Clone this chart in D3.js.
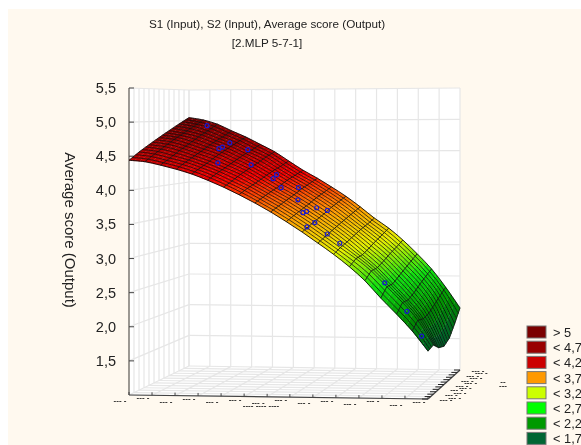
<!DOCTYPE html>
<html>
<head>
<meta charset="utf-8">
<title>S1, S2, Average score</title>
<script src="https://cdnjs.cloudflare.com/ajax/libs/d3/7.8.5/d3.min.js"></script>
<style>
	html, body { margin: 0; padding: 0; background: #fff; overflow: hidden; }
	svg { display: block; filter: blur(0.3px); font-family: "Liberation Sans", Arial, sans-serif; }
</style>
</head>
<body>
<script>
(function() {
	'use strict';

	// DATA //

	var titleLines = [ 'S1 (Input), S2 (Input), Average score (Output)', '[2.MLP 5-7-1]' ],
		zLabel = 'Average score (Output)',
		zTicks = [ 1.5, 2, 2.5, 3, 3.5, 4, 4.5, 5, 5.5 ],
		legendLabels = [ '> 5', '< 4,7', '< 4,2', '< 3,7', '< 3,2', '< 2,7', '< 2,2', '< 1,7' ],
		legendColors = [ '#7b0000', '#990000', '#cc0000', '#ff9900', '#ccff00', '#00ff00', '#009900', '#006633' ],
		surfaceColors = [ '#7b0000', '#a80000', '#f00000', '#ff9900', '#e6f000', '#10e010', '#008c00', '#005a30' ],
		colorStops = [ 5, 4.6, 4.15, 3.6, 3.1, 2.6, 2.1, 1.6 ],
		// The input axis labels are unreadable in the picture, so positions are on a 0-1 range:
		s1Ticks = [ 0, 0.077, 0.154, 0.231, 0.308, 0.385, 0.462, 0.538, 0.615, 0.692, 0.769, 0.846, 0.923, 1 ],
		s2Ticks = [ 0, 0.083, 0.167, 0.25, 0.333, 0.417, 0.5, 0.583, 0.667, 0.75, 0.833, 0.917, 1 ],
		s1Grid = [ 0, 0.053, 0.105, 0.158, 0.21, 0.263, 0.316, 0.368, 0.421, 0.474, 0.526, 0.579, 0.632, 0.684, 0.737, 0.789, 0.842, 0.895, 0.947, 1 ],
		s2Grid = [ 0, 0.167, 0.333, 0.5, 0.667, 0.833, 1 ],
		// One row per S1 grid value, one column per S2 grid value:
		surface = [
			[ 4.44, 4.55, 4.65, 4.75, 4.85, 4.95, 5.05 ],
			[ 4.42, 4.52, 4.62, 4.72, 4.81, 4.91, 5.01 ],
			[ 4.37, 4.46, 4.56, 4.65, 4.75, 4.84, 4.94 ],
			[ 4.31, 4.40, 4.48, 4.57, 4.66, 4.74, 4.83 ],
			[ 4.24, 4.32, 4.40, 4.49, 4.57, 4.65, 4.73 ],
			[ 4.15, 4.23, 4.30, 4.38, 4.46, 4.53, 4.61 ],
			[ 4.05, 4.12, 4.20, 4.27, 4.34, 4.42, 4.49 ],
			[ 3.94, 4.01, 4.07, 4.14, 4.21, 4.27, 4.34 ],
			[ 3.82, 3.88, 3.94, 4.00, 4.07, 4.13, 4.19 ],
			[ 3.69, 3.75, 3.81, 3.87, 3.94, 4.00, 4.06 ],
			[ 3.55, 3.61, 3.67, 3.73, 3.80, 3.86, 3.92 ],
			[ 3.40, 3.46, 3.52, 3.58, 3.65, 3.71, 3.77 ],
			[ 3.24, 3.30, 3.36, 3.42, 3.48, 3.54, 3.60 ],
			[ 3.08, 3.14, 3.19, 3.25, 3.31, 3.36, 3.42 ],
			[ 2.90, 2.98, 3.00, 3.06, 3.13, 3.19, 3.26 ],
			[ 2.70, 2.80, 2.81, 2.87, 2.94, 3.00, 3.07 ],
			[ 2.45, 2.57, 2.57, 2.64, 2.71, 2.78, 2.85 ],
			[ 2.22, 2.34, 2.33, 2.39, 2.47, 2.54, 2.61 ],
			[ 1.98, 2.08, 2.05, 2.08, 2.16, 2.24, 2.32 ],
			[ 1.69, 1.72, 1.62, 1.58, 1.64, 1.80, 1.99 ]
		],
		pointS1 = [ 0.088, 0.191, 0.19, 0.193, 0.256, 0.231, 0.307, 0.39, 0.385, 0.43, 0.463, 0.494, 0.535, 0.54, 0.55, 0.58, 0.576, 0.582, 0.632, 0.672, 0.827, 0.91, 0.97 ],
		pointS2 = [ 0.9, 0.6, 0.67, 0.79, 0.8, 0.37, 0.59, 0.56, 0.66, 0.49, 0.66, 0.46, 0.31, 0.36, 0.52, 0.57, 0.13, 0.27, 0.22, 0.24, 0.23, 0.17, 0.08 ],
		pointZ = [ 4.92, 4.57, 4.59, 4.65, 4.54, 4.37, 4.32, 4.11, 4.16, 3.98, 3.96, 3.80, 3.63, 3.64, 3.67, 3.62, 3.45, 3.49, 3.33, 3.19, 2.61, 2.21, 1.88 ];


	// SETUP //

	var width = 581,
		height = 445,
		fineSteps = 3,
		uSteps = 3,
		uScale = d3.scaleLinear().domain( [ 0, 1 ] ).range( [ 0, 1 ] ),
		vScale = d3.scaleLinear().domain( [ 0, 1 ] ).range( [ 0, 1 ] ),
		zScale = d3.scaleLinear().domain( [ 1, 5.5 ] ).range( [ 0, 1 ] ),
		color = d3.scaleLinear().domain( colorStops ).range( surfaceColors ).clamp( true ),
		// Box corners on screen [ x, bottom y, top y ]:
		c00 = [ 129, 395, 88 ],
		c10 = [ 428, 399, 87 ],
		c11 = [ 460, 370, 88 ],
		c01 = [ 189, 366, 90 ],
		svg,
		line = d3.line();

	/**
	* FUNCTION: project( s1, s2, z )
	*	Maps data values onto the screen through the box corners.
	*/
	function project( s1, s2, z ) {
		var u = uScale( s1 ),
			v = vScale( s2 ),
			h = zScale( z );

		function mix( i ) {
			return (1-u)*(1-v)*c00[ i ] + u*(1-v)*c10[ i ] + u*v*c11[ i ] + (1-u)*v*c01[ i ];
		}
		return [ mix( 0 ), mix( 1 )*(1-h) + mix( 2 )*h ];
	} // end FUNCTION project()

	// Value on the drawn mesh, between the rows of the surface table:
	function meshPoint( i, j ) {
		var k = Math.min( Math.floor( i ), s1Grid.length-2 ),
			l = Math.min( Math.floor( j ), s2Grid.length-2 ),
			a = i - k,
			b = j - l,
			s1 = s1Grid[ k ] + a*( s1Grid[ k+1 ]-s1Grid[ k ] ),
			s2 = s2Grid[ l ] + b*( s2Grid[ l+1 ]-s2Grid[ l ] ),
			z = (1-a)*(1-b)*surface[ k ][ l ] + a*(1-b)*surface[ k+1 ][ l ] + a*b*surface[ k+1 ][ l+1 ] + (1-a)*b*surface[ k ][ l+1 ];
		return { p: project( s1, s2, z ), z: z };
	}

	svg = d3.select( 'body' ).append( 'svg' )
		.attr( 'width', width )
		.attr( 'height', height );

	svg.append( 'rect' )
		.attr( 'x', 8 )
		.attr( 'y', 9 )
		.attr( 'width', width-8 )
		.attr( 'height', height-9 )
		.attr( 'fill', '#fff9ef' );


	// WALLS //

	var walls = svg.append( 'g' );

	[
		[ project( 0, 0, 1 ), project( 0, 1, 1 ), project( 0, 1, 5.5 ), project( 0, 0, 5.5 ) ],
		[ project( 0, 1, 1 ), project( 1, 1, 1 ), project( 1, 1, 5.5 ), project( 0, 1, 5.5 ) ],
		[ project( 0, 0, 1 ), project( 1, 0, 1 ), project( 1, 1, 1 ), project( 0, 1, 1 ) ]
	].forEach( function( pts ) {
		walls.append( 'path' )
			.attr( 'd', line( pts ) + 'Z' )
			.attr( 'fill', '#fff' );
	});

	function gridLine( a, b ) {
		walls.append( 'path' )
			.attr( 'd', line( [ a, b ] ) )
			.attr( 'fill', 'none' )
			.attr( 'stroke', '#e6e6e6' )
			.attr( 'stroke-width', 1.2 );
	}

	s1Ticks.forEach( function( t ) {
		gridLine( project( t, 1, 1 ), project( t, 1, 5.5 ) );
		gridLine( project( t, 0, 1 ), project( t, 1, 1 ) );
	});
	s2Ticks.forEach( function( t ) {
		gridLine( project( 0, t, 1 ), project( 0, t, 5.5 ) );
		gridLine( project( 0, t, 1 ), project( 1, t, 1 ) );
	});
	zTicks.forEach( function( t ) {
		gridLine( project( 0, 0, t ), project( 0, 1, t ) );
		gridLine( project( 0, 1, t ), project( 1, 1, t ) );
	});


	// AXES //

	var axes = svg.append( 'g' );

	function axisLine( a, b, col, w ) {
		axes.append( 'path' )
			.attr( 'd', line( [ a, b ] ) )
			.attr( 'fill', 'none' )
			.attr( 'stroke', col )
			.attr( 'stroke-width', w );
	}

	axisLine( project( 0, 0, 1 ), project( 0, 0, 5.5 ), '#77736b', 1.4 );
	axisLine( project( 0, 0, 1 ), project( 1, 0, 1 ), '#444', 1.2 );
	axisLine( project( 1, 0, 1 ), project( 1, 1, 1 ), '#444', 1.2 );

	zTicks.forEach( function( t ) {
		var p = project( 0, 0, t );
		axisLine( p, [ p[ 0 ]+5, p[ 1 ] ], '#444', 1 );
		axes.append( 'text' )
			.attr( 'x', 116 )
			.attr( 'y', p[ 1 ]+5 )
			.attr( 'text-anchor', 'end' )
			.attr( 'font-size', 14.5 )
			.attr( 'fill', '#222' )
			.text( String( t.toFixed( 1 ) ).replace( '.', ',' ) );
	});
	axes.append( 'text' )
		.attr( 'transform', 'translate(65,230) rotate(90)' )
		.attr( 'text-anchor', 'middle' )
		.attr( 'font-size', 15 )
		.attr( 'fill', '#222' )
		.text( zLabel );

	// The input tick labels are only dashes at this size:
	function dashLabel( x, y, txt ) {
		axes.append( 'text' )
			.attr( 'x', x )
			.attr( 'y', y )
			.attr( 'text-anchor', 'middle' )
			.attr( 'font-size', 8 )
			.attr( 'font-weight', 'bold' )
			.attr( 'fill', '#222' )
			.text( txt );
	}

	s1Ticks.forEach( function( t, i ) {
		var p = project( t, 0, 1 );
		axisLine( p, [ p[ 0 ], p[ 1 ]-3 ], '#444', 1 );
		dashLabel( p[ 0 ]-9, p[ 1 ] + ( i%2 ? 5 : 8 ), '--- -' );
	});
	s2Ticks.forEach( function( t, i ) {
		var p = project( 1, t, 1 );
		axisLine( p, [ p[ 0 ]-6, p[ 1 ] ], '#222', 1 );
		dashLabel( p[ 0 ] + ( i%2 ? 24 : 18 ), p[ 1 ]+3, '--- -' );
	});
	dashLabel( 261, 408, '---- ---- ----' );
	dashLabel( 503, 388, '---' );
	dashLabel( 503, 384, '--' );


	// SURFACE //

	var mesh = svg.append( 'g' ),
		cells = [],
		nu = (s1Grid.length-1)*uSteps,
		nv = (s2Grid.length-1)*fineSteps,
		meanArea = 0,
		i, j;

	for ( j = nv-1; j >= 0; j-- ) {
		for ( i = 0; i < nu; i++ ) {
			(function( i, j ) {
				var a = meshPoint( i/uSteps, j/fineSteps ),
					b = meshPoint( (i+1)/uSteps, j/fineSteps ),
					c = meshPoint( (i+1)/uSteps, (j+1)/fineSteps ),
					d = meshPoint( i/uSteps, (j+1)/fineSteps ),
					area = Math.abs( d3.polygonArea( [ a.p, b.p, c.p, d.p ] ) );
				meanArea += area;
				cells.push({
					pts: [ a.p, b.p, c.p, d.p ],
					z: ( a.z+b.z+c.z+d.z )/4,
					area: area
				});
			})( i, j );
		}
	}
	meanArea /= cells.length;

	mesh.selectAll( 'path.cell' )
		.data( cells )
		.enter().append( 'path' )
		.attr( 'class', 'cell' )
		.attr( 'd', function( d ) { return line( d.pts ) + 'Z'; } )
		.attr( 'fill', shaded )
		.attr( 'stroke', shaded )
		.attr( 'stroke-width', 0.3 );

	function shaded( d ) {
		var f = Math.max( 0.3, Math.min( 1, 0.1 + 1.2*d.area/meanArea ) ),
			c = d3.rgb( color( d.z ) );
		return d3.rgb( c.r*f, c.g*f, c.b*f ).formatRgb();
	}

	// Fine lines along S1, heavy lines along S2:
	for ( j = 0; j <= nv; j++ ) {
		(function( j ) {
			var pts = s1Grid.map( function( s, k ) {
				return meshPoint( k, j/fineSteps ).p;
			});
			mesh.append( 'path' )
				.attr( 'd', d3.line().curve( d3.curveCatmullRom )( pts ) )
				.attr( 'fill', 'none' )
				.attr( 'stroke', '#000' )
				.attr( 'stroke-opacity', ( j === 0 || j === nv ) ? 0.85 : 0.7 )
				.attr( 'stroke-width', 1 );
		})( j );
	}
	s1Grid.forEach( function( s, k ) {
		var pts = d3.range( 0, nv+1 ).map( function( j ) {
			return meshPoint( k, j/fineSteps ).p;
		});
		mesh.append( 'path' )
			.attr( 'd', line( pts ) )
			.attr( 'fill', 'none' )
			.attr( 'stroke', '#111' )
			.attr( 'stroke-opacity', 0.85 )
			.attr( 'stroke-width', 1 );
	});


	// POINTS //

	svg.append( 'g' ).selectAll( 'circle' )
		.data( pointZ )
		.enter().append( 'circle' )
		.attr( 'cx', function( d, i ) { return project( pointS1[ i ], pointS2[ i ], d )[ 0 ]; } )
		.attr( 'cy', function( d, i ) { return project( pointS1[ i ], pointS2[ i ], d )[ 1 ]; } )
		.attr( 'r', 2 )
		.attr( 'fill', 'none' )
		.attr( 'stroke', '#1a1ad0' )
		.attr( 'stroke-width', 1.2 );


	// TITLE //

	svg.append( 'g' ).selectAll( 'text' )
		.data( titleLines )
		.enter().append( 'text' )
		.attr( 'x', 267 )
		.attr( 'y', function( d, i ) { return 28 + i*19; } )
		.attr( 'text-anchor', 'middle' )
		.attr( 'font-size', 11.7 )
		.attr( 'fill', '#222' )
		.text( function( d ) { return d; } );


	// LEGEND //

	var legend = svg.append( 'g' ).selectAll( 'g' )
		.data( legendLabels )
		.enter().append( 'g' )
		.attr( 'transform', function( d, i ) { return 'translate(527,' + ( 326 + i*15.2 ) + ')'; } );

	legend.append( 'rect' )
		.attr( 'width', 19 )
		.attr( 'height', 12 )
		.attr( 'fill', function( d, i ) { return legendColors[ i ]; } )
		.attr( 'stroke', '#777' )
		.attr( 'stroke-width', 1 );

	legend.append( 'text' )
		.attr( 'x', 26 )
		.attr( 'y', 11 )
		.attr( 'font-size', 12.8 )
		.attr( 'fill', '#222' )
		.text( function( d ) { return d; } );

})();
</script>
</body>
</html>
